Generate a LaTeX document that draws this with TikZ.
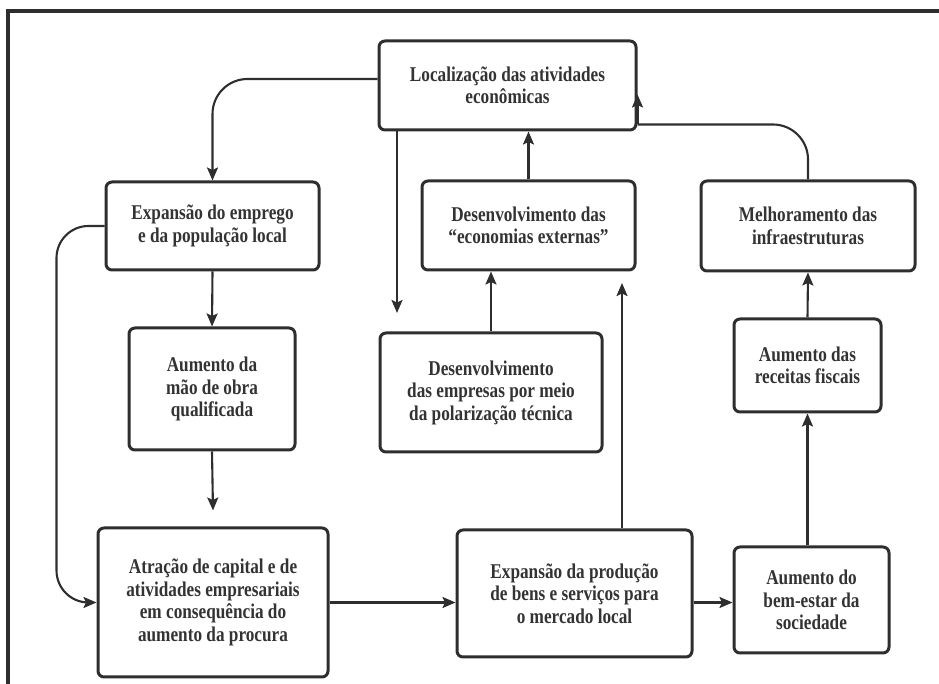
\documentclass[tikz,border=0pt]{standalone}
\usepackage{fontspec}
\setmainfont{Liberation Serif}[FakeStretch=0.82]
\usepackage{xcolor}
\usepackage{tikz}
\usetikzlibrary{calc, arrows.meta}

\definecolor{inkgray}{HTML}{2E2E2E}
\definecolor{textgray}{HTML}{333333}

\begin{document}
\begin{tikzpicture}[x=1pt, y=1pt,
		box/.style = {draw=inkgray, line width=3pt, rounded corners=6pt, align=center,
			inner sep=0pt, text=textgray, font=\fontsize{21}{22.5}\selectfont\bfseries},
		link/.style = {draw=inkgray, line width=2.1pt},
		arrow/.style = {link, -{Stealth[length=13pt, width=11pt, inset=2.5pt]}}]
		\useasboundingbox (0,0) rectangle (939,684);
		
		% frame (top and left only)
		\draw[inkgray, line width=3.2pt] (8,0) -- (8,673) -- (939,673);
		
		% boxes
		\node[box, minimum width=257pt, minimum height=89pt] (loc) at (507.5,598.5) {Localização das atividades\\econômicas};
		\node[box, minimum width=213pt, minimum height=88pt] (emprego) at (212.5,458) {Expansão do emprego\\e da população local};
		\node[box, minimum width=166pt, minimum height=122pt] (maoobra) at (212,295) {Aumento da\\mão de obra\\qualificada};
		\node[box, minimum width=230pt, minimum height=149pt] (capital) at (213,81.5) {Atração de capital e de\\atividades empresariais\\em consequência do\\aumento da procura};
		\node[box, minimum width=235pt, minimum height=127pt] (producao) at (574.5,90.5) {Expansão da produção\\de bens e serviços para\\o mercado local};
		\node[box, minimum width=155pt, minimum height=106pt] (bemestar) at (811.5,84) {Aumento do\\bem-estar da\\sociedade};
		\node[box, minimum width=222pt, minimum height=119pt] (empresas) at (491,291.5) {Desenvolvimento\\das empresas por meio\\da polarização técnica};
		\node[box, minimum width=213pt, minimum height=89pt] (externas) at (528.5,458.5) {Desenvolvimento das\\“economias externas”};
		\node[box, minimum width=214pt, minimum height=90pt] (infra) at (808,458) {Melhoramento das\\infraestruturas};
		\node[box, minimum width=147pt, minimum height=93pt] (receitas) at (807.5,318.5) {Aumento das\\receitas fiscais};
		
		% free ends
		\coordinate (locdown) at (397,371);
		\coordinate (produp) at (622,401);
		\coordinate (infraturn) at ([yshift=7pt]loc.south east);
		
		% left loop
		\draw[arrow, rounded corners=35pt] ([yshift=6.5pt]loc.west) -| (emprego.north);
		\draw[arrow] (emprego.south) -- (maoobra.north);
		\draw[arrow] (maoobra.south) -- ([yshift=16pt]capital.north);
		\draw[arrow, rounded corners=32pt] (emprego.west) -| ([xshift=-40pt]capital.west) -- (capital.west);
		
		% bottom row
		\draw[arrow] (capital.east) -- (capital.east -| producao.west);
		\draw[arrow] (capital.east -| producao.east) -- (capital.east -| bemestar.west);
		
		% middle
		\draw[arrow] (loc.south -| locdown) -- (locdown);
		\draw[arrow] (producao.north -| produp) -- (produp);
		\draw[arrow] (empresas.north) -- (empresas.north |- externas.south);
		\draw[arrow] (externas.north) -- (externas.north |- loc.south);
		
		% right column
		\draw[arrow] (bemestar.north -| receitas.south) -- (receitas.south);
		\draw[arrow] (receitas.north) -- (infra.south);
		\draw[link, rounded corners=35pt] (infra.north) |- (infraturn);
		\draw[arrow] (infraturn) -- ([yshift=-9pt]loc.east);
	\end{tikzpicture}
\end{document}
